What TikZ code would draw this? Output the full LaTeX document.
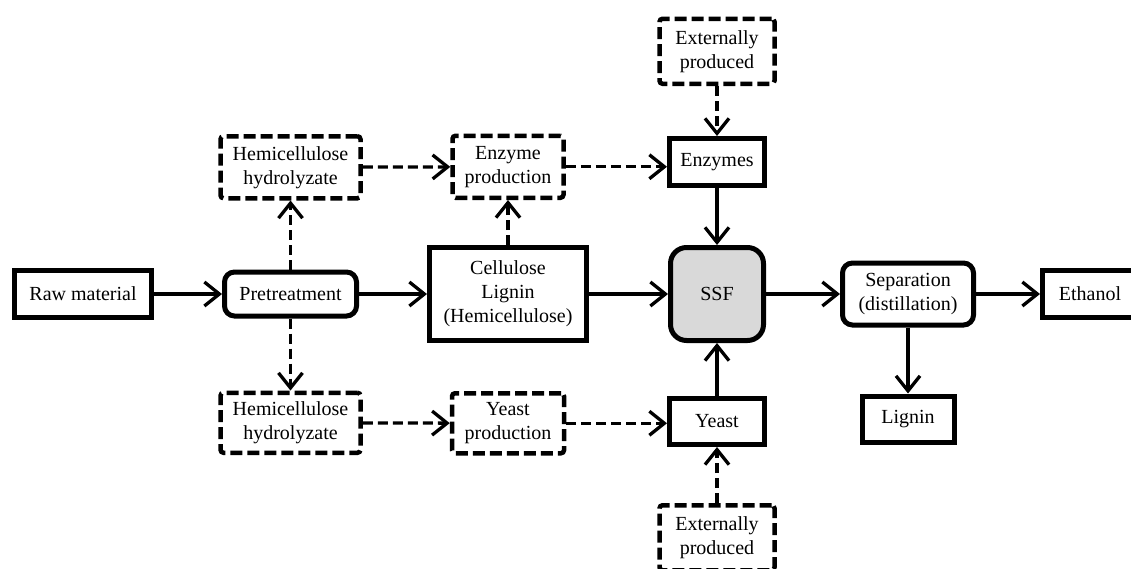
\documentclass[tikz,border=0pt]{standalone}
\usepackage{fontspec}
\setmainfont{Liberation Serif}
\usetikzlibrary{positioning,arrows.meta}

\begin{document}
\begin{tikzpicture}[x=1pt, y=1pt,
			font=\fontsize{20}{24}\selectfont,
			box/.style={rectangle, draw=black, line width=5pt, align=center, inner sep=2pt},
			roundbox/.style={box, rounded corners=10pt},
			dashbox/.style={box, line width=4.5pt, rounded corners=3pt, dash pattern=on 12pt off 5pt},
			flow/.style={-{Straight Barb[length=15pt,width=24pt]}, line width=3.3pt},
			dashflow/.style={flow, dash pattern=on 10pt off 5pt},
		]
		
			\useasboundingbox (0,0) rectangle (1131,-568);
		
			%Nodes
			\node[box, minimum width=137pt, minimum height=47pt]		(raw) at (83,-294)	{Raw material};
			\node[roundbox, minimum width=132pt, minimum height=44pt]		(pre)[right=68pt of raw]	{Pretreatment};
			\node[box, minimum width=157pt, minimum height=93pt]		(cell)[right=68pt of pre]	{Cellulose\\Lignin\\(Hemicellulose)};
			\node[roundbox, rounded corners=16pt, fill=gray!30, minimum width=93pt, minimum height=93pt]		(ssf)[right=79pt of cell]	{SSF};
			\node[roundbox, minimum width=131pt, minimum height=62pt]		(sep)[right=74pt of ssf]	{Separation\\(distillation)};
			\node[box, minimum width=95pt, minimum height=47pt]		(eth)[right=64pt of sep]	{Ethanol};
			\node[box, minimum width=92pt, minimum height=46pt]		(lig)[below=66pt of sep]	{Lignin};
		
			\node[box, minimum width=95pt, minimum height=47pt]		(enz)[above=57pt of ssf]	{Enzymes};
			\node[dashbox, minimum width=115pt, minimum height=65pt]		(exttop)[above=50pt of enz]	{Externally\\produced};
			\node[box, minimum width=95pt, minimum height=46pt]		(yeast)[below=53pt of ssf]	{Yeast};
			\node[dashbox, minimum width=115pt, minimum height=65pt]		(extbot)[below=56pt of yeast]	{Externally\\produced};
		
			\node[dashbox, minimum width=140pt, minimum height=62pt]		(hemitop)[above=69pt of pre]	{Hemicellulose\\hydrolyzate};
			\node[dashbox, minimum width=140pt, minimum height=60pt]		(hemibot)[below=72pt of pre]	{Hemicellulose\\hydrolyzate};
			\node[dashbox, minimum width=111pt, minimum height=62pt]		(enzprod)[above=45pt of cell]	{Enzyme\\production};
			\node[dashbox, minimum width=112pt, minimum height=60pt]		(yeastprod)[below=48pt of cell]	{Yeast\\production};
		
			%Lines
			\draw[flow]	(raw) -- (pre);
			\draw[flow]	(pre) -- (cell);
			\draw[flow]	(cell) -- (ssf);
			\draw[flow]	(ssf) -- (sep);
			\draw[flow]	(sep) -- (eth.west |- sep);
			\draw[flow]	(sep) -- (lig);
			\draw[flow]	(enz) -- (ssf);
			\draw[flow]	(yeast) -- (ssf);
		
			%Dashed lines
			\draw[dashflow]	(pre) -- (hemitop);
			\draw[dashflow]	(pre) -- (hemibot);
			\draw[dashflow]	(hemitop) -- (enzprod);
			\draw[dashflow]	(hemibot) -- (yeastprod);
			\draw[dashflow]	(cell) -- (enzprod);
			\draw[dashflow]	(enzprod) -- (enzprod -| enz.west);
			\draw[dashflow]	(yeastprod) -- (yeastprod -| yeast.west);
			\draw[dashflow]	(exttop) -- (enz);
			\draw[dashflow]	(extbot) -- (yeast);
		
		\end{tikzpicture}
\end{document}
